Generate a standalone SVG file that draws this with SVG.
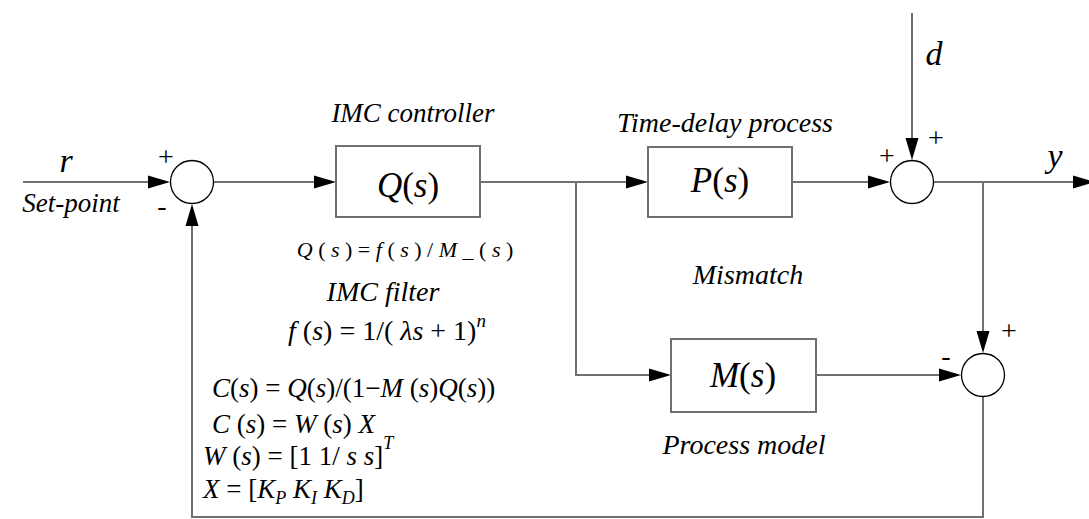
<svg xmlns="http://www.w3.org/2000/svg" width="1089" height="519" viewBox="0 0 1089 519">
<rect width="1089" height="519" fill="#fff"/>
<g id="connectors">
<g fill="none" stroke="#707070" stroke-width="2">
<path d="M23,182 H160"/>
<path d="M213,182 H326"/>
<path d="M480,182 H638"/>
<path d="M576,182 V375 H661"/>
<path d="M792,182 H880"/>
<path d="M912,13 V150"/>
<path d="M934,182 H1089"/>
<path d="M983,182 V343"/>
<path d="M816,375 H951"/>
<path d="M983,397 V517 H192 V214"/>
</g>
<g fill="#000">
<polygon points="148,175.5 170,182 148,188.5"/>
<polygon points="314,175.5 336,182 314,188.5"/>
<polygon points="626,175.5 648,182 626,188.5"/>
<polygon points="649,368.5 671,375 649,381.5"/>
<polygon points="868,175.5 890,182 868,188.5"/>
<polygon points="905.5,138 912,160 918.5,138"/>
<polygon points="1073,175.5 1095,182 1073,188.5"/>
<polygon points="976.5,331 983,353 989.5,331"/>
<polygon points="939,368.5 961,375 939,381.5"/>
<polygon points="185.5,226 192,204 198.5,226"/>
</g>
</g>
<g id="sum1">
<circle cx="192" cy="182" r="21.5" fill="#fff" stroke="#000" stroke-width="1.3"/>
<text font-family="Liberation Serif" font-size="28" text-anchor="middle" x="166" y="166">+</text>
<text font-family="Liberation Serif" font-size="28" text-anchor="middle" x="162" y="215">-</text>
</g>
<g id="input-label">
<text font-family="Liberation Serif" font-style="italic" x="66" y="172" font-size="34" text-anchor="middle">r</text>
<text font-family="Liberation Serif" font-style="italic" x="71" y="212" font-size="27" text-anchor="middle">Set-point</text>
</g>
<g id="Q">
<rect x="336" y="146" width="144" height="71" fill="#fff" stroke="#707070" stroke-width="2"/>
<text font-family="Liberation Serif" x="408" y="197" font-size="35" text-anchor="middle"><tspan font-style="italic">Q</tspan>(<tspan font-style="italic">s</tspan>)</text>
<text font-family="Liberation Serif" font-style="italic" x="413" y="122" font-size="27" text-anchor="middle">IMC controller</text>
</g>
<g id="P">
<rect x="648" y="147" width="144" height="70" fill="#fff" stroke="#707070" stroke-width="2"/>
<text font-family="Liberation Serif" x="720" y="192" font-size="35" text-anchor="middle"><tspan font-style="italic">P</tspan>(<tspan font-style="italic">s</tspan>)</text>
<text font-family="Liberation Serif" font-style="italic" x="725" y="132" font-size="28" text-anchor="middle">Time-delay process</text>
</g>
<g id="sum2">
<circle cx="912" cy="182" r="21.5" fill="#fff" stroke="#000" stroke-width="1.3"/>
<text font-family="Liberation Serif" font-size="28" text-anchor="middle" x="936" y="147">+</text>
<text font-family="Liberation Serif" font-size="28" text-anchor="middle" x="887" y="165">+</text>
<text font-family="Liberation Serif" font-style="italic" x="934" y="65" font-size="34" text-anchor="middle">d</text>
<text font-family="Liberation Serif" font-style="italic" x="1055" y="167" font-size="34" text-anchor="middle">y</text>
</g>
<g id="M">
<rect x="671" y="339" width="145" height="73" fill="#fff" stroke="#707070" stroke-width="2"/>
<text font-family="Liberation Serif" x="743" y="387" font-size="35" text-anchor="middle"><tspan font-style="italic">M</tspan>(<tspan font-style="italic">s</tspan>)</text>
<text font-family="Liberation Serif" font-style="italic" x="748" y="284" font-size="28" text-anchor="middle">Mismatch</text>
<text font-family="Liberation Serif" font-style="italic" x="744" y="454" font-size="28" text-anchor="middle">Process model</text>
</g>
<g id="sum3">
<circle cx="983" cy="375" r="21.5" fill="#fff" stroke="#000" stroke-width="1.3"/>
<text font-family="Liberation Serif" font-size="28" text-anchor="middle" x="1009" y="340">+</text>
<text font-family="Liberation Serif" font-size="28" text-anchor="middle" x="946" y="365">-</text>
</g>
<g id="formulas">
<text font-family="Liberation Serif" x="405" y="257" font-size="22" text-anchor="middle"><tspan font-style="italic">Q</tspan> ( <tspan font-style="italic">s</tspan> ) =  <tspan font-style="italic">f</tspan> ( <tspan font-style="italic">s</tspan> ) / <tspan font-style="italic">M</tspan> _ ( <tspan font-style="italic">s</tspan> )</text>
<text font-family="Liberation Serif" font-style="italic" x="383" y="301" font-size="28" text-anchor="middle">IMC filter</text>
<text font-family="Liberation Serif" x="387" y="340" font-size="28" text-anchor="middle"><tspan font-style="italic">f</tspan> (<tspan font-style="italic">s</tspan>) = 1/( <tspan font-style="italic">&#955;s</tspan> + 1)<tspan font-style="italic" font-size="19" dy="-13">n</tspan></text>
<text font-family="Liberation Serif" x="212" y="397" font-size="27"><tspan font-style="italic">C</tspan>(<tspan font-style="italic">s</tspan>) = <tspan font-style="italic">Q</tspan>(<tspan font-style="italic">s</tspan>)/(1&#8722;<tspan font-style="italic">M</tspan> (<tspan font-style="italic">s</tspan>)<tspan font-style="italic">Q</tspan>(<tspan font-style="italic">s</tspan>))</text>
<text font-family="Liberation Serif" x="212" y="433" font-size="27"><tspan font-style="italic">C</tspan> (<tspan font-style="italic">s</tspan>) = <tspan font-style="italic">W</tspan> (<tspan font-style="italic">s</tspan>) <tspan font-style="italic">X</tspan></text>
<text font-family="Liberation Serif" x="203" y="465" font-size="27"><tspan font-style="italic">W</tspan> (<tspan font-style="italic">s</tspan>) = [1  1/ <tspan font-style="italic">s</tspan>   <tspan font-style="italic">s</tspan>]<tspan font-style="italic" font-size="18" dy="-16">T</tspan></text>
<text font-family="Liberation Serif" x="203" y="498" font-size="27"><tspan font-style="italic">X</tspan>  = [<tspan font-style="italic">K</tspan><tspan font-style="italic" font-size="18" dy="6">P</tspan><tspan dy="-6">   </tspan><tspan font-style="italic">K</tspan><tspan font-style="italic" font-size="18" dy="6">I</tspan><tspan dy="-6">   </tspan><tspan font-style="italic">K</tspan><tspan font-style="italic" font-size="18" dy="6">D</tspan><tspan dy="-6">]</tspan></text>
</g>
</svg>
